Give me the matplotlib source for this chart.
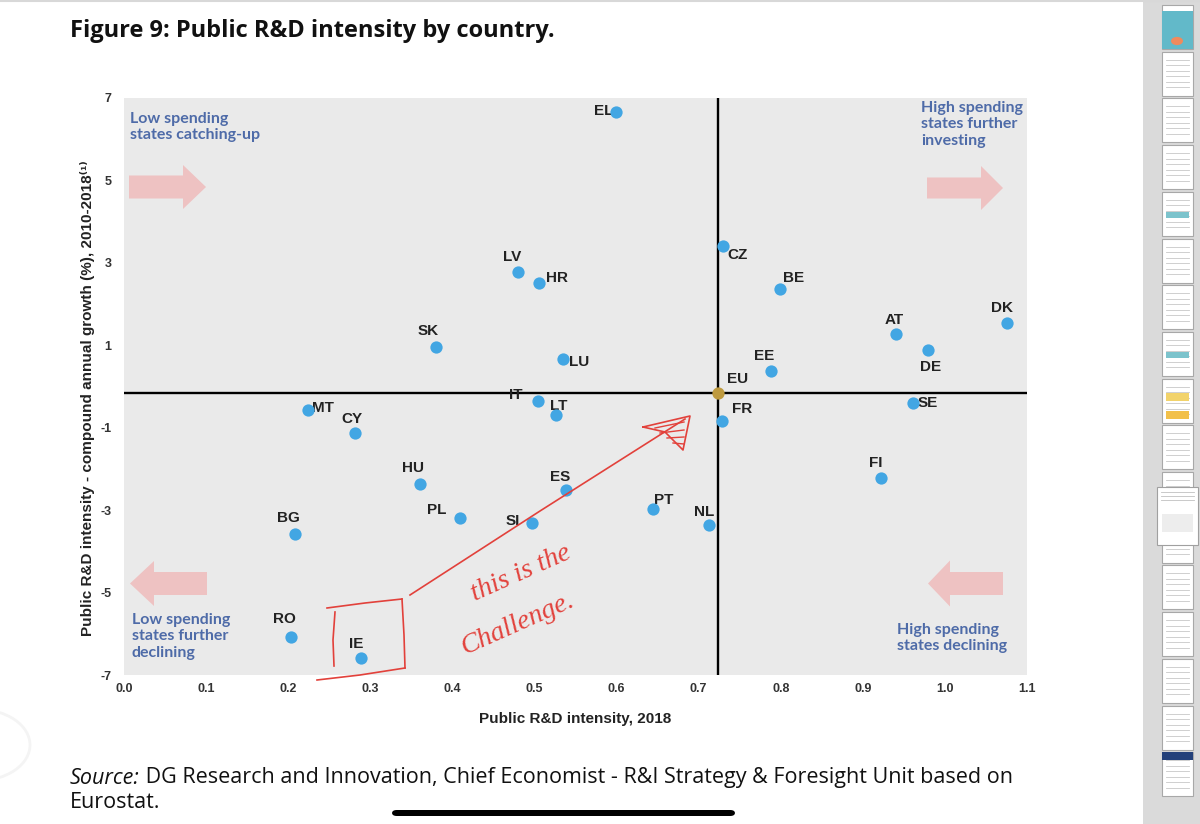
import matplotlib
matplotlib.use('Agg')
import matplotlib.pyplot as plt
from matplotlib.patches import Rectangle, Polygon, FancyBboxPatch, Circle
from matplotlib.lines import Line2D

# ---------------- data ----------------
countries = ['EL', 'CZ', 'BE', 'DK', 'AT', 'DE', 'EE', 'LU', 'HR', 'LV', 'SK', 'IT', 'LT', 'MT',
             'CY', 'HU', 'PL', 'SI', 'BG', 'RO', 'IE', 'ES', 'PT', 'NL', 'FR', 'SE', 'FI']
intensity = [0.599, 0.730, 0.799, 1.076, 0.941, 0.979, 0.788, 0.535, 0.506, 0.480, 0.380, 0.504,
             0.526, 0.224, 0.281, 0.361, 0.409, 0.497, 0.208, 0.204, 0.289, 0.538, 0.644, 0.713,
             0.728, 0.961, 0.922]
growth = [6.67, 3.41, 2.36, 1.55, 1.27, 0.88, 0.38, 0.66, 2.50, 2.79, 0.96, -0.35, -0.68, -0.57,
          -1.12, -2.37, -3.19, -3.32, -3.59, -6.09, -6.58, -2.51, -2.98, -3.36, -0.83, -0.39, -2.23]
eu_label = 'EU'
eu_intensity = 0.723
eu_growth = -0.16

x_ticks = [0.0, 0.1, 0.2, 0.3, 0.4, 0.5, 0.6, 0.7, 0.8, 0.9, 1.0, 1.1]
x_tick_labels = ['0.0', '0.1', '0.2', '0.3', '0.4', '0.5', '0.6', '0.7', '0.8', '0.9', '1.0', '1.1']
y_ticks = [7, 5, 3, 1, -1, -3, -5, -7]
y_tick_labels = ['7', '5', '3', '1', '-1', '-3', '-5', '-7']

title = 'Figure 9: Public R&D intensity by country.'
x_label = 'Public R&D intensity, 2018'
y_label = 'Public R&D intensity - compound annual growth (%), 2010-2018⁽¹⁾'
quadrants = {
    'tl': 'Low spending\nstates catching-up',
    'tr': 'High spending\nstates further\ninvesting',
    'bl': 'Low spending\nstates further\ndeclining',
    'br': 'High spending\nstates declining',
}
source_italic = 'Source:'
source_rest = ' DG Research and Innovation, Chief Economist - R&I Strategy & Foresight Unit based on'
source_line2 = 'Eurostat.'

# label offsets (pixels: right, down) relative to each dot
label_off = {
    'EL': (-12, -1), 'CZ': (14, 9), 'BE': (14, -11), 'DK': (-5, -15), 'AT': (-2, -14),
    'DE': (3, 17), 'EE': (-7, -15), 'LU': (16, 3), 'HR': (18, -5), 'LV': (-6, -15),
    'SK': (-8, -16), 'IT': (-22, -6), 'LT': (3, -9), 'MT': (15, -2), 'CY': (-3, -14),
    'HU': (-7, -16), 'PL': (-23, -8), 'SI': (-19, -2), 'BG': (-6, -16), 'RO': (-7, -18),
    'IE': (-5, -14), 'ES': (-6, -13), 'PT': (11, -9), 'NL': (-5, -13), 'FR': (21, -12),
    'SE': (15, 0), 'FI': (-5, -15), 'EU': (20, -14),
}

# ---------------- figure ----------------
W, H = 1200, 824
fig = plt.figure(figsize=(W / 100, H / 100), dpi=100)
fig.patch.set_facecolor('white')


def fx(px):
    return px / W


def fy(py):
    return 1 - py / H


TF = fig.transFigure

ax = fig.add_axes([fx(124), fy(675), (1027 - 124) / W, (675 - 98) / H])
ax.set_facecolor('#EAEAEA')
ax.set_xlim(0, 1.1)
ax.set_ylim(-7, 7)
for s in ax.spines.values():
    s.set_visible(False)
ax.tick_params(length=0)
ax.tick_params(axis='x', pad=6)
ax.tick_params(axis='y', pad=9)
ax.set_xticks(x_ticks)
ax.set_xticklabels(x_tick_labels, fontfamily='Liberation Sans', fontweight='bold',
                   fontsize=9, color='#333333')
ax.set_yticks(y_ticks)
ax.set_yticklabels(y_tick_labels, fontfamily='Liberation Sans', fontweight='bold',
                   fontsize=9, color='#333333')
ax.set_xlabel(x_label, fontfamily='Liberation Sans', fontweight='bold', fontsize=11,
              color='#222222', labelpad=12)
ax.set_ylabel(y_label, fontfamily=['Liberation Sans', 'DejaVu Sans'], fontweight='bold',
              fontsize=11, color='#222222')
ax.yaxis.set_label_coords((95 - 124) / 903, (675 - 398) / 577)

ax.axhline(eu_growth, color='black', lw=1.7, zorder=2)
ax.axvline(eu_intensity, color='black', lw=1.7, zorder=2)

ax.scatter(intensity, growth, s=78, color='#42A6E3', linewidths=0, zorder=4)
ax.scatter([eu_intensity], [eu_growth], s=78, color='#BE9A3F', linewidths=0, zorder=4)

for c, xv, yv in list(zip(countries, intensity, growth)) + [(eu_label, eu_intensity, eu_growth)]:
    dx, dy = label_off[c]
    ax.annotate(c, (xv, yv), xytext=(dx * 0.72, -dy * 0.72), textcoords='offset points',
                ha='center', va='center', fontfamily='Liberation Sans', fontweight='bold',
                fontsize=11, color='#222222', zorder=3)


# pink block arrows (pixel geometry)
def block_arrow(x_tail, x_base, x_tip, yc, th, hh):
    pts = [(x_tail, yc - th), (x_base, yc - th), (x_base, yc - hh), (x_tip, yc),
           (x_base, yc + hh), (x_base, yc + th), (x_tail, yc + th)]
    poly = Polygon([(fx(a), fy(b)) for a, b in pts], closed=True, transform=TF,
                   facecolor='#EEC2C2', edgecolor='none', zorder=3)
    fig.patches.append(poly)


block_arrow(129, 183, 206, 187, 11.5, 22)
block_arrow(207, 154, 130, 583.5, 11.5, 22.5)
block_arrow(927, 981, 1003, 188, 10.5, 22)
block_arrow(1003, 950, 928, 583.5, 11.5, 23)

qstyle = dict(fontfamily='Lato', fontweight='bold', fontsize=11.5, color='#4E6BA8',
              va='top', ha='left', linespacing=1.22, transform=TF)
fig.text(fx(130), fy(112), quadrants['tl'], **qstyle)
fig.text(fx(921), fy(101), quadrants['tr'], **qstyle)
fig.text(fx(132), fy(613), quadrants['bl'], **qstyle)
fig.text(fx(897), fy(623), quadrants['br'], **qstyle)

# title
fig.text(fx(70), fy(31), title, fontfamily='Open Sans', fontweight='bold', fontsize=17,
         color='#111111', va='center', ha='left')

# source
src_size = 15.5
t1 = fig.text(fx(70), fy(778), source_italic, fontfamily='Open Sans', fontstyle='italic',
              fontsize=src_size, color='#111111', va='center', ha='left')
fig.canvas.draw()
bb = t1.get_window_extent()
fig.text(bb.x1 / W, fy(778), source_rest, fontfamily='Open Sans', fontsize=src_size,
         color='#111111', va='center', ha='left')
fig.text(fx(70), fy(803), source_line2, fontfamily='Open Sans', fontsize=src_size,
         color='#111111', va='center', ha='left')

# red handwritten annotation
red = '#E2413B'


def rline(pts, lw=1.2):
    fig.lines.append(Line2D([fx(a) for a, b in pts], [fy(b) for a, b in pts], transform=TF,
                            color=red, lw=lw, zorder=10))


rline([(327, 608), (365, 603), (402, 599)])
rline([(335, 612), (333, 640), (334, 666)])
rline([(402, 599), (404, 635), (405, 668)])
rline([(317, 680), (360, 675), (405, 668)])
rline([(410, 595), (540, 511), (685, 419)])
rline([(643, 427), (690, 416), (683, 450), (665, 432), (643, 427)])
rline([(655, 428), (684, 422)], lw=1.0)
rline([(660, 433), (684, 430)], lw=1.0)
rline([(667, 438), (684, 437)], lw=1.0)
rline([(673, 443), (684, 444)], lw=1.0)
fig.text(fx(521), fy(573), 'this is the', fontfamily='Liberation Serif', fontstyle='italic',
         fontsize=20, color=red, rotation=24, ha='center', va='center')
fig.text(fx(518), fy(624), 'Challenge.', fontfamily='Liberation Serif', fontstyle='italic',
         fontsize=20, color=red, rotation=24, ha='center', va='center')

# screenshot chrome: sidebar with page thumbnails
fig.patches.append(Rectangle((fx(1143), fy(824)), (1200 - 1143) / W, 1, transform=TF,
                             facecolor='#DADADA', edgecolor='none', zorder=1))
for k in range(17):
    y0 = 5 + k * 46.7
    fig.patches.append(Rectangle((fx(1162), fy(y0 + 44)), 31 / W, 44 / H, transform=TF,
                                 facecolor='#FFFFFF', edgecolor='#A8A8A8', lw=0.8, zorder=2))
    if k == 0:
        fig.patches.append(Rectangle((fx(1162), fy(y0 + 44)), 31 / W, 38 / H, transform=TF,
                                     facecolor='#62B9C9', edgecolor='none', zorder=3))
        fig.patches.append(Circle((fx(1177), fy(y0 + 36)), 6 / W, transform=TF,
                                  facecolor='#F08A5D', edgecolor='none', zorder=4))
    else:
        for j in range(6):
            yy = y0 + 8 + j * 5.5
            fig.lines.append(Line2D([fx(1166), fx(1189)], [fy(yy), fy(yy)], transform=TF,
                                    color='#C8C8C8', lw=0.6, zorder=3))
    if k in (4, 7):
        fig.patches.append(Rectangle((fx(1166), fy(y0 + 26)), 23 / W, 6 / H, transform=TF,
                                     facecolor='#7CC3CC', edgecolor='none', zorder=4))
    if k == 8:
        fig.patches.append(Rectangle((fx(1166), fy(y0 + 22)), 23 / W, 8 / H, transform=TF,
                                     facecolor='#F2D36B', edgecolor='none', zorder=4))
        fig.patches.append(Rectangle((fx(1166), fy(y0 + 40)), 23 / W, 8 / H, transform=TF,
                                     facecolor='#F2C04A', edgecolor='none', zorder=4))
    if k == 16:
        fig.patches.append(Rectangle((fx(1162), fy(y0 + 8)), 31 / W, 8 / H, transform=TF,
                                     facecolor='#23407A', edgecolor='none', zorder=4))
fig.patches.append(Rectangle((fx(1157), fy(545)), 41 / W, 58 / H, transform=TF,
                             facecolor='white', edgecolor='#A0A0A0', lw=0.8, zorder=5))
fig.patches.append(Rectangle((fx(1162), fy(532)), 31 / W, 18 / H, transform=TF,
                             facecolor='#EDEDED', edgecolor='none', zorder=6))
for j in range(3):
    yy = 492 + j * 4
    fig.lines.append(Line2D([fx(1161), fx(1194)], [fy(yy), fy(yy)], transform=TF,
                            color='#C0C0C0', lw=0.6, zorder=6))

# top border line, home indicator, faint side circle
fig.lines.append(Line2D([0, 1], [fy(1), fy(1)], transform=TF, color='#D8D8D8', lw=1.5))
fig.patches.append(FancyBboxPatch((fx(392), fy(816)), (735 - 392) / W, 6 / H,
                                  boxstyle='round,pad=0,rounding_size=0.004', transform=TF,
                                  facecolor='black', edgecolor='none', zorder=5))
fig.patches.append(Circle((fx(-22), fy(745)), 52 / W, transform=TF, facecolor='white',
                          edgecolor='#F4F4F4', lw=2, zorder=1))

fig.savefig('out.png', dpi=100)
